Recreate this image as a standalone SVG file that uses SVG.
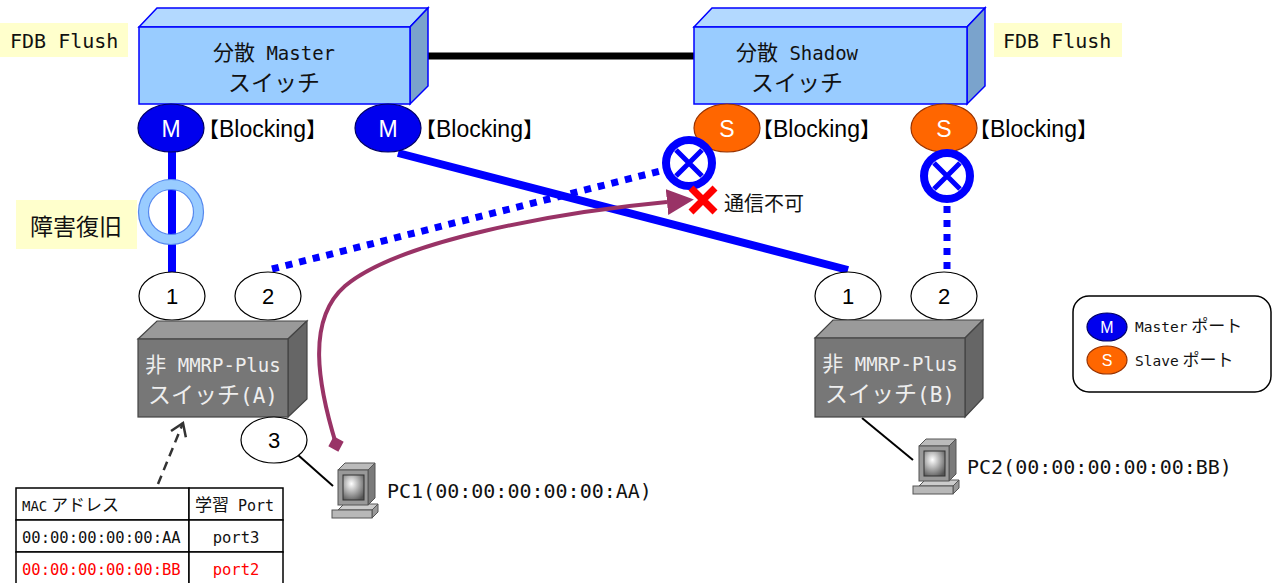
<svg xmlns="http://www.w3.org/2000/svg" width="1274" height="583" viewBox="0 0 1274 583">
  <style>
    .sans { font-family: "Liberation Sans", Arial, "Noto Sans CJK JP", sans-serif; }
    .cond { font-family: "DejaVu Sans Mono", "Noto Sans CJK JP", monospace; }
    .jp { font-family: "Noto Sans CJK JP", "Liberation Sans", sans-serif; }
    .note { fill: #ffffcc; }
    .portnum { fill: #ffffff; stroke: #000000; stroke-width: 1.2; }
    .mport { fill: #0000ee; stroke: #000066; stroke-width: 1.2; }
    .sport { fill: #ff6600; stroke: #993300; stroke-width: 1.2; }
    .bfront { fill: #99ccff; stroke: #0000ff; stroke-width: 1.5; }
    .btop { fill: #b3d9ff; stroke: #0000ff; stroke-width: 1.5; }
    .bside { fill: #7aa3cc; stroke: #0000ff; stroke-width: 1.5; }
    .gfront { fill: #777777; stroke: #444444; stroke-width: 1.2; }
    .gtop { fill: #9a9a9a; stroke: #444444; stroke-width: 1.2; }
    .gside { fill: #666666; stroke: #444444; stroke-width: 1.2; }
    .link { stroke: #0000ff; stroke-width: 8; fill: none; }
    .dotted { stroke: #0000ff; stroke-width: 7; fill: none; stroke-dasharray: 7 7; }
    .cable { stroke: #000000; stroke-width: 2; fill: none; }
    .cell { fill: #ffffff; stroke: #000000; stroke-width: 1.5; }
  </style>
  <defs>
    <radialGradient id="screen" cx="0.4" cy="0.35" r="0.75">
      <stop offset="0" stop-color="#ffffff"/>
      <stop offset="1" stop-color="#555555"/>
    </radialGradient>
    <!-- small desktop PC icon -->
    <symbol id="pc" viewBox="0 0 48 56" width="48" height="56" overflow="visible">
      <polygon points="8,48 14,42 48,42 42,48" fill="#cccccc" stroke="#555" stroke-width="1"/>
      <polygon points="42,48 48,42 48,50 42,56" fill="#999999" stroke="#555" stroke-width="1"/>
      <rect x="2" y="48" width="40" height="8" fill="#b8b8b8" stroke="#555" stroke-width="1"/>
      <polygon points="8,8 15,1 45,1 38,8" fill="#bbbbbb" stroke="#555" stroke-width="1"/>
      <polygon points="38,8 45,1 45,36 38,43" fill="#7a7a7a" stroke="#555" stroke-width="1"/>
      <rect x="8" y="8" width="30" height="35" fill="#999999" stroke="#555" stroke-width="1"/>
      <rect x="13" y="13" width="21" height="25" fill="url(#screen)" stroke="#333" stroke-width="1"/>
    </symbol>
    <!-- blocked port mark -->
    <symbol id="blocked" viewBox="-28 -28 56 56" width="56" height="56" overflow="visible">
      <circle r="23" fill="#ffffff" stroke="#0000ff" stroke-width="8"/>
      <path d="M-13,-13 L13,13 M13,-13 L-13,13" stroke="#0000ff" stroke-width="5"/>
    </symbol>
    <marker id="head" markerUnits="userSpaceOnUse" markerWidth="28" markerHeight="26" refX="0" refY="13" orient="auto">
      <path d="M0,0 L27,13 L0,26 z" fill="#993366"/>
    </marker>
    <marker id="tail" markerUnits="userSpaceOnUse" markerWidth="18" markerHeight="18" refX="9" refY="9" orient="auto">
      <path d="M9,1 L17,9 L9,17 L1,9 z" fill="#993366"/>
    </marker>
    <marker id="open" markerUnits="userSpaceOnUse" markerWidth="20" markerHeight="20" refX="16" refY="10" orient="auto">
      <path d="M4,2 L16,10 L4,18" fill="none" stroke="#333333" stroke-width="2.5"/>
    </marker>
  </defs>

  <rect width="1274" height="583" fill="#ffffff"/>

  <!-- connectors -->
  <g id="connectors">
    <line x1="424" y1="56" x2="696" y2="56" stroke="#000000" stroke-width="7"/>
    <line class="link" x1="172" y1="150" x2="172" y2="272"/>
    <line class="link" x1="398" y1="153" x2="848" y2="270"/>
    <line class="dotted" x1="272" y1="269" x2="672" y2="168"/>
    <line class="dotted" x1="947" y1="192" x2="947" y2="272"/>
    <line class="cable" x1="298" y1="455" x2="333" y2="486"/>
    <line class="cable" x1="862" y1="418" x2="913" y2="460"/>
    <path d="M336,444 C318,385 306,320 345,286 C400,240 560,212 667,202" stroke="#993366" stroke-width="4" fill="none" marker-start="url(#tail)" marker-end="url(#head)"/>
    <line x1="158" y1="484" x2="183" y2="423" stroke="#333333" stroke-width="2.5" stroke-dasharray="9 6" marker-end="url(#open)"/>
  </g>

  <!-- FDB flush notes -->
  <g id="note-fdb-left">
    <rect class="note" x="0" y="23" width="128" height="34"/>
    <text class="cond" x="10" y="48" font-size="20" fill="#111">FDB Flush</text>
  </g>
  <g id="note-fdb-right">
    <rect class="note" x="994" y="23" width="128" height="34"/>
    <text class="cond" x="1003" y="48" font-size="20" fill="#111">FDB Flush</text>
  </g>

  <!-- distributed master switch -->
  <g id="master-switch">
    <polygon class="btop" points="139,27 157,8 428,8 410,27"/>
    <polygon class="bside" points="410,27 428,8 428,86 410,104"/>
    <rect class="bfront" x="139" y="27" width="271" height="77"/>
    <text class="cond" x="274" y="60" font-size="19" text-anchor="middle" fill="#111"><tspan class="jp" font-size="21">分散</tspan> Master</text>
    <text class="jp" x="274" y="91" font-size="23" text-anchor="middle" fill="#111">スイッチ</text>
  </g>

  <!-- distributed shadow switch -->
  <g id="shadow-switch">
    <polygon class="btop" points="694,27 712,8 985,8 967,27"/>
    <polygon class="bside" points="967,27 985,8 985,86 967,104"/>
    <rect class="bfront" x="694" y="27" width="273" height="77"/>
    <text class="cond" x="797" y="60" font-size="19" text-anchor="middle" fill="#111"><tspan class="jp" font-size="21">分散</tspan> Shadow</text>
    <text class="jp" x="797" y="91" font-size="23" text-anchor="middle" fill="#111">スイッチ</text>
  </g>

  <!-- ring ports -->
  <g id="port-m1">
    <ellipse class="mport" cx="171" cy="128" rx="33" ry="24"/>
    <text class="sans" x="171" y="137" font-size="23" fill="#ffffff" text-anchor="middle">M</text>
    <text class="jp" x="198" y="137" font-size="21" fill="#000">【<tspan class="sans" font-size="23">Blocking</tspan>】</text>
  </g>
  <g id="port-m2">
    <ellipse class="mport" cx="388" cy="128" rx="33" ry="24"/>
    <text class="sans" x="388" y="137" font-size="23" fill="#ffffff" text-anchor="middle">M</text>
    <text class="jp" x="415" y="137" font-size="21" fill="#000">【<tspan class="sans" font-size="23">Blocking</tspan>】</text>
  </g>
  <g id="port-s1">
    <ellipse class="sport" cx="727" cy="128" rx="33" ry="24"/>
    <text class="sans" x="727" y="137" font-size="23" fill="#ffffff" text-anchor="middle">S</text>
    <text class="jp" x="752" y="137" font-size="21" fill="#000">【<tspan class="sans" font-size="23">Blocking</tspan>】</text>
  </g>
  <g id="port-s2">
    <ellipse class="sport" cx="944" cy="128" rx="33" ry="24"/>
    <text class="sans" x="944" y="137" font-size="23" fill="#ffffff" text-anchor="middle">S</text>
    <text class="jp" x="969" y="137" font-size="21" fill="#000">【<tspan class="sans" font-size="23">Blocking</tspan>】</text>
  </g>

  <!-- blocked ports -->
  <g id="blocked-s1"><use href="#blocked" x="661" y="135"/></g>
  <g id="blocked-s2"><use href="#blocked" x="919" y="148"/></g>

  <!-- link recovery -->
  <g id="recovery">
    <rect class="note" x="16" y="200" width="121" height="49"/>
    <text class="jp" x="76" y="235" font-size="23" text-anchor="middle" fill="#111">障害復旧</text>
    <circle cx="171" cy="212" r="27.5" fill="none" stroke="#99ccff" stroke-width="10"/>
    <circle cx="171" cy="212" r="32.5" fill="none" stroke="#5588ee" stroke-width="1.2"/>
    <circle cx="171" cy="212" r="22.5" fill="none" stroke="#5588ee" stroke-width="1.2"/>
  </g>

  <!-- unreachable mark -->
  <g id="no-comm">
    <path d="M691,188 L715,212 M715,188 L691,212" stroke="#ff0000" stroke-width="7"/>
    <text class="jp" x="724" y="211" font-size="20" fill="#111">通信不可</text>
  </g>

  <!-- switch A -->
  <g id="switch-a">
    <ellipse class="portnum" cx="172" cy="296" rx="33" ry="24"/>
    <text class="sans" x="172" y="304" font-size="22" text-anchor="middle">1</text>
    <ellipse class="portnum" cx="268" cy="296" rx="33" ry="24"/>
    <text class="sans" x="268" y="304" font-size="22" text-anchor="middle">2</text>
    <polygon class="gtop" points="138,339 157,321 307,321 288,339"/>
    <polygon class="gside" points="288,339 307,321 307,399 288,417"/>
    <rect class="gfront" x="138" y="339" width="150" height="78"/>
    <text class="cond" x="213" y="372" font-size="19" text-anchor="middle" fill="#eeeeee"><tspan class="jp" font-size="21">非</tspan> MMRP-Plus</text>
    <text class="cond" x="213" y="403" font-size="21" text-anchor="middle" fill="#eeeeee"><tspan class="jp" font-size="23">スイッチ</tspan>(A)</text>
    <ellipse class="portnum" cx="274" cy="440" rx="33" ry="23"/>
    <text class="sans" x="274" y="448" font-size="22" text-anchor="middle">3</text>
  </g>

  <!-- switch B -->
  <g id="switch-b">
    <ellipse class="portnum" cx="848" cy="296" rx="33" ry="24"/>
    <text class="sans" x="848" y="304" font-size="22" text-anchor="middle">1</text>
    <ellipse class="portnum" cx="944" cy="296" rx="33" ry="24"/>
    <text class="sans" x="944" y="304" font-size="22" text-anchor="middle">2</text>
    <polygon class="gtop" points="815,338 833,320 983,320 965,338"/>
    <polygon class="gside" points="965,338 983,320 983,398 965,417"/>
    <rect class="gfront" x="815" y="338" width="150" height="79"/>
    <text class="cond" x="890" y="371" font-size="19" text-anchor="middle" fill="#eeeeee"><tspan class="jp" font-size="21">非</tspan> MMRP-Plus</text>
    <text class="cond" x="890" y="402" font-size="21" text-anchor="middle" fill="#eeeeee"><tspan class="jp" font-size="23">スイッチ</tspan>(B)</text>
  </g>

  <!-- hosts -->
  <g id="pc1">
    <use href="#pc" x="330" y="462"/>
    <text class="cond" x="387" y="498" font-size="20" fill="#111">PC1(00:00:00:00:00:AA)</text>
  </g>
  <g id="pc2">
    <use href="#pc" x="911" y="438"/>
    <text class="cond" x="967" y="474" font-size="20" fill="#111">PC2(00:00:00:00:00:BB)</text>
  </g>

  <!-- FDB table of switch A -->
  <g id="fdb-table">
    <rect class="cell" x="16" y="488" width="173" height="32"/>
    <rect class="cell" x="189" y="488" width="94" height="32"/>
    <rect class="cell" x="16" y="520" width="173" height="32"/>
    <rect class="cell" x="189" y="520" width="94" height="32"/>
    <rect class="cell" x="16" y="552" width="173" height="40"/>
    <rect class="cell" x="189" y="552" width="94" height="40"/>
    <text class="cond" x="22" y="511" font-size="14" fill="#111">MAC<tspan class="jp" font-size="17"> アドレス</tspan></text>
    <text class="cond" x="195" y="511" font-size="15" fill="#111"><tspan class="jp" font-size="17">学習</tspan> Port</text>
    <text class="cond" x="22" y="543" font-size="15.5" fill="#111">00:00:00:00:00:AA</text>
    <text class="cond" x="236" y="543" font-size="15.5" fill="#111" text-anchor="middle">port3</text>
    <text class="cond" x="22" y="575" font-size="15.5" fill="#ff0000">00:00:00:00:00:BB</text>
    <text class="cond" x="236" y="575" font-size="15.5" fill="#ff0000" text-anchor="middle">port2</text>
  </g>

  <!-- legend -->
  <g id="legend">
    <rect x="1073" y="296" width="198" height="96" rx="16" fill="#ffffff" stroke="#000000" stroke-width="1.5"/>
    <ellipse class="mport" cx="1107" cy="327" rx="20" ry="14"/>
    <text class="sans" x="1107" y="333" font-size="16" fill="#ffffff" text-anchor="middle">M</text>
    <text class="cond" x="1135" y="332" font-size="14.5" fill="#111">Master<tspan class="jp" font-size="17"> ポート</tspan></text>
    <ellipse class="sport" cx="1107" cy="360" rx="20" ry="14"/>
    <text class="sans" x="1107" y="366" font-size="16" fill="#ffffff" text-anchor="middle">S</text>
    <text class="cond" x="1135" y="366" font-size="14.5" fill="#111">Slave<tspan class="jp" font-size="17"> ポート</tspan></text>
  </g>
</svg>
